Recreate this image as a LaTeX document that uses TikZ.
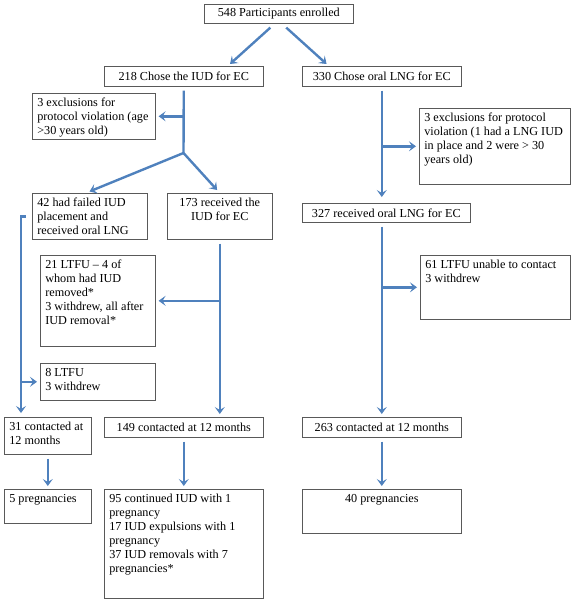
\documentclass[tikz,border=0pt]{standalone}
\usepackage{fontspec}
\setmainfont{Liberation Serif}
\usetikzlibrary{calc,arrows.meta}

\definecolor{flowblue}{RGB}{79,129,189}
\newcommand{\cell}[3]{\parbox[t][\dimexpr#2pt-6pt\relax][t]{\dimexpr#1pt-10pt\relax}{\raggedright\strut#3}}
\newcommand{\cellc}[3]{\parbox[t][\dimexpr#2pt-6pt\relax][t]{\dimexpr#1pt-10pt\relax}{\centering\strut#3}}

\tikzset{
  box/.style={draw=black!65, line width=0.6pt, anchor=north west, inner xsep=5pt, inner ysep=3pt},
  flow/.style={draw=flowblue, line width=2.4pt, -{Stealth[length=7pt,width=10pt,inset=3pt]}, shorten >=3pt},
  trunk/.style={draw=flowblue, line width=2.4pt, shorten <=4pt}
}

\begin{document}
\begin{tikzpicture}[x=1pt,y=-1pt,font=\fontsize{12.2}{14}\selectfont]
  \useasboundingbox (0,0) rectangle (572,603);

  % top level
  \node[box, minimum width=149pt, minimum height=19pt] (enrol) at (204,4) {548 Participants enrolled};
  \node[box, minimum width=159pt, minimum height=20pt] (iud) at (104,66) {218 Chose the IUD for EC};
  \node[box, minimum width=159pt, minimum height=20pt] (lng) at (302,66) {330 Chose oral LNG for EC};

  % exclusions
  \node[box] (exclA) at (32,93) {\cell{123}{46}{3 exclusions for\\protocol violation (age\\>30 years old)}};
  \node[box] (exclB) at (419,108) {\cell{151}{76}{3 exclusions for protocol\\violation (1 had a LNG IUD\\in place and 2 were > 30\\years old)}};

  % treatment received
  \node[box] (fail) at (32,193) {\cell{115}{46}{42 had failed IUD\\placement and\\received oral LNG}};
  \node[box] (recv) at (167,193) {\cellc{105}{46}{173 received the\\IUD for EC}};
  \node[box, minimum width=168pt, minimum height=19pt] (oral) at (302,203) {327 received oral LNG for EC};

  % lost to follow-up
  \node[box] (ltfuA) at (40,255) {\cell{115}{91}{21 LTFU -- 4 of\\whom had IUD\\removed*\\3 withdrew, all after\\IUD removal*}};
  \node[box] (ltfuB) at (40,363) {\cell{115}{37}{8 LTFU\\3 withdrew}};
  \node[box] (ltfuC) at (420,255) {\cell{150}{64}{61 LTFU unable to contact\\3 withdrew}};

  % 12 months
  \node[box] (cA) at (4,417) {\cell{87}{37}{31 contacted at\\12 months}};
  \node[box, minimum width=159pt, minimum height=20pt] (cB) at (104,417) {149 contacted at 12 months};
  \node[box, minimum width=159pt, minimum height=20pt] (cC) at (302,417) {263 contacted at 12 months};

  % outcomes
  \node[box] (pA) at (4,489) {\cell{87}{34}{5 pregnancies}};
  \node[box] (pB) at (104,489) {\cell{159}{109}{95 continued IUD with 1\\pregnancy\\17 IUD expulsions with 1\\pregnancy\\37 IUD removals with 7\\pregnancies*}};
  \node[box] (pC) at (302,489) {\cellc{159}{44}{40 pregnancies}};

  \coordinate (forkA) at (183.5,153);
  \coordinate (leftRail) at ($(cA.north west)+(17,0)$);

  \draw[flow, shorten <=6pt] ($(enrol.south)+(-4,0)$) -- ($(iud.north)+(44,0)$);
  \draw[flow, shorten <=6pt] ($(enrol.south)+(3,0)$) -- ($(lng.north)+(-53,0)$);

  % IUD arm
  \draw[trunk] (iud.south) -- (forkA);
  \draw[flow] (iud.south |- exclA.east) -- (exclA.east);
  \draw[flow, shorten >=4pt] (forkA) -- ($(fail.north)+(-4,0)$);
  \draw[flow, shorten >=4pt] (forkA) -- (recv.north);
  \draw[flow, shorten <=4pt] (recv.south) -- (recv.south |- cB.north);
  \draw[flow] (recv.south |- ltfuA.east) -- (ltfuA.east);
  \draw[flow, shorten >=4pt] ($(fail.west)+(-6,0)$) -| (leftRail);
  \draw[flow] (leftRail |- ltfuB.west) -- (ltfuB.west);

  % LNG arm
  \draw[flow, shorten <=4pt, shorten >=6pt] (lng.south) -- (lng.south |- oral.north);
  \draw[flow] (lng.south |- exclB.west) -- (exclB.west);
  \draw[flow, shorten <=4pt] (cC.north |- oral.south) -- (cC.north);
  \draw[flow] (cC.north |- ltfuC.west) -- (ltfuC.west);

  % outcomes
  \draw[flow, shorten <=4pt] (cA.south) -- (pA.north);
  \draw[flow, shorten <=4pt] (cB.south) -- (pB.north);
  \draw[flow, shorten <=4pt] (cC.south) -- (pC.north);
\end{tikzpicture}
\end{document}
